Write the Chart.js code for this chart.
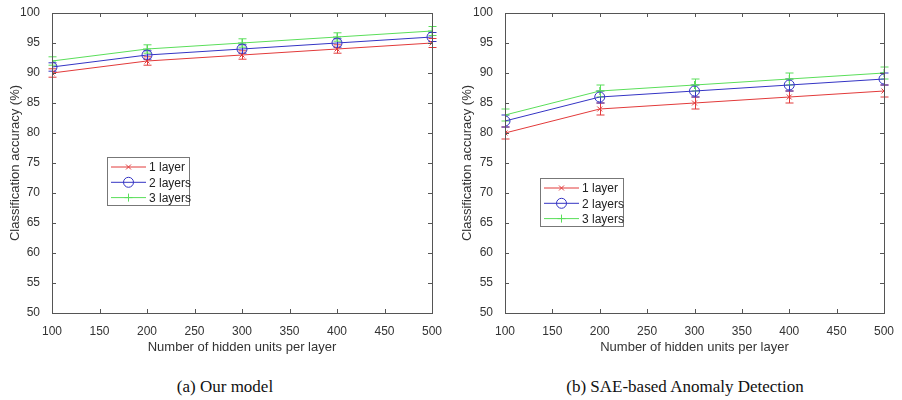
<!DOCTYPE html>
<html>
<head>
<meta charset="utf-8">
<script src="https://cdn.jsdelivr.net/npm/chart.js@4.4.1/dist/chart.umd.min.js"></script>
<style>
  html,body{margin:0;padding:0;background:#fff;}
  #wrap{position:relative;width:902px;height:400px;overflow:hidden;}
  .pane{position:absolute;top:0;width:450px;height:360px;}
  .cap{position:absolute;top:377px;width:450px;text-align:center;font-family:"Liberation Serif","Times New Roman",serif;font-size:17px;color:#111;}
</style>
</head>
<body>
<div id="wrap">
  <div class="pane" style="left:0"><canvas id="chartA" width="450" height="360"></canvas></div>
  <div class="pane" style="left:452px"><canvas id="chartB" width="450" height="360"></canvas></div>
  <div class="cap" style="left:0">(a) Our model</div>
  <div class="cap" style="left:460px">(b) SAE-based Anomaly Detection</div>
</div>
<script>
// hidden units on the x axis
const units = [100, 200, 300, 400, 500];
const seriesNames = ['1 layer', '2 layers', '3 layers'];

// (a) our model
const ourOne   = [90, 92, 93, 94, 95];
const ourTwo   = [91, 93, 94, 95, 96];
const ourThree = [92, 94, 95, 96, 97];
const ourErr   = [0.7, 0.7, 0.7, 0.7, 0.75];

// (b) SAE-based anomaly detection
const saeOne   = [80, 84, 85, 86, 87];
const saeTwo   = [82, 86, 87, 88, 89];
const saeThree = [83, 87, 88, 89, 90];
const saeErr   = [1, 1, 1, 1, 1];

const colors = ['#e23a3a', '#3434c4', '#5ade5a'];
const markers = ['crossRot', 'circle', 'cross'];
const radii = [3.5, 5, 4];
const axisColor = '#555';
const font = {family:'"Liberation Sans", Arial, sans-serif', size:12};
const titleFont = {family:'"Liberation Sans", Arial, sans-serif', size:13};

// MATLAB style box with inward ticks
const boxPlugin = {
  id:'box',
  afterDraw(chart){
    const {ctx, chartArea:a, scales:{x, y}} = chart;
    ctx.save();
    ctx.strokeStyle = axisColor; ctx.lineWidth = 1;
    ctx.strokeRect(a.left+.5, a.top+.5, a.right-a.left, a.bottom-a.top);
    const L = 4;
    ctx.beginPath();
    x.ticks.forEach(t=>{
      const px = Math.round(x.getPixelForValue(t.value))+.5;
      ctx.moveTo(px, a.bottom); ctx.lineTo(px, a.bottom-L);
      ctx.moveTo(px, a.top); ctx.lineTo(px, a.top+L);
    });
    y.ticks.forEach(t=>{
      const py = Math.round(y.getPixelForValue(t.value))+.5;
      ctx.moveTo(a.left, py); ctx.lineTo(a.left+L, py);
      ctx.moveTo(a.right, py); ctx.lineTo(a.right-L, py);
    });
    ctx.stroke();
    ctx.restore();
  }
};

// vertical error bars with caps
const errPlugin = {
  id:'errbars',
  beforeDatasetsDraw(chart){
    const {ctx, scales:{x, y}} = chart;
    ctx.save();
    chart.data.datasets.forEach(ds=>{
      ctx.strokeStyle = ds.borderColor; ctx.lineWidth = 1;
      ctx.beginPath();
      ds.data.forEach((p,i)=>{
        const e = ds.errors[i];
        const px = Math.round(x.getPixelForValue(p.x))+.5;
        const top = y.getPixelForValue(p.y+e), bot = y.getPixelForValue(p.y-e);
        ctx.moveTo(px, top); ctx.lineTo(px, bot);
        ctx.moveTo(px-4, top); ctx.lineTo(px+4, top);
        ctx.moveTo(px-4, bot); ctx.lineTo(px+4, bot);
      });
      ctx.stroke();
    });
    ctx.restore();
  }
};

// legend box drawn inside the plot
const legendPlugin = {
  id:'boxLegend',
  afterDraw(chart, args, opts){
    const {ctx} = chart;
    const {left, top, w, h} = opts;
    ctx.save();
    ctx.fillStyle = '#fff';
    ctx.fillRect(left, top, w, h);
    ctx.strokeStyle = '#777'; ctx.lineWidth = 1;
    ctx.strokeRect(left+.5, top+.5, w, h);
    ctx.font = `${font.size}px ${font.family}`;
    ctx.textBaseline = 'middle';
    chart.data.datasets.forEach((ds,i)=>{
      const cy = top + 10 + i*15.3;
      ctx.strokeStyle = ds.borderColor;
      ctx.beginPath(); ctx.moveTo(left+4, cy); ctx.lineTo(left+39, cy); ctx.stroke();
      ctx.fillStyle = 'rgba(0,0,0,0)';
      Chart.helpers.drawPoint(ctx, {pointStyle:ds.pointStyle, radius:ds.pointRadius, borderWidth:1}, left+21.5, cy);
      ctx.fillStyle = '#222';
      ctx.fillText(ds.label, left+42, cy+1);
    });
    ctx.restore();
  }
};

function makeDatasets(vals, errs){
  return vals.map((v,i)=>({
    label: seriesNames[i],
    data: units.map((u,j)=>({x:u, y:v[j]})),
    errors: errs,
    borderColor: colors[i],
    backgroundColor: 'rgba(0,0,0,0)',
    borderWidth: 1,
    pointStyle: markers[i],
    pointRadius: radii[i],
    pointBorderWidth: 1,
    pointBorderColor: colors[i],
    pointBackgroundColor: 'rgba(0,0,0,0)',
    tension: 0
  }));
}

function makeChart(id, vals, errs, plotLeft, legendPos){
  return new Chart(document.getElementById(id), {
    type:'line',
    data:{datasets: makeDatasets(vals, errs)},
    plugins:[errPlugin, boxPlugin, legendPlugin],
    options:{
      responsive:false, animation:false,
      layout:{padding:{top:13, right:18, left:4, bottom:0}},
      plugins:{legend:{display:false}, tooltip:{enabled:false}, boxLegend:legendPos},
      scales:{
        x:{type:'linear', min:100, max:500,
          ticks:{stepSize:50, color:'#333', font, padding:3, maxRotation:0},
          grid:{display:false}, border:{display:false},
          title:{display:true, text:'Number of hidden units per layer', color:'#333', font:titleFont, padding:{top:2, bottom:5}},
          afterFit(s){ s.height = 47; }},
        y:{min:50, max:100,
          ticks:{stepSize:5, color:'#333', font, padding:4},
          grid:{display:false}, border:{display:false},
          title:{display:true, text:'Classification accuracy (%)', color:'#333', font:titleFont, padding:{bottom:4}},
          afterFit(s){ s.width = plotLeft - 4; }}
      }
    }
  });
}

makeChart('chartA', [ourOne, ourTwo, ourThree], ourErr, 52, {left:107, top:157, w:82, h:48});
makeChart('chartB', [saeOne, saeTwo, saeThree], saeErr, 53, {left:88, top:178, w:83, h:48});
</script>
</body>
</html>
